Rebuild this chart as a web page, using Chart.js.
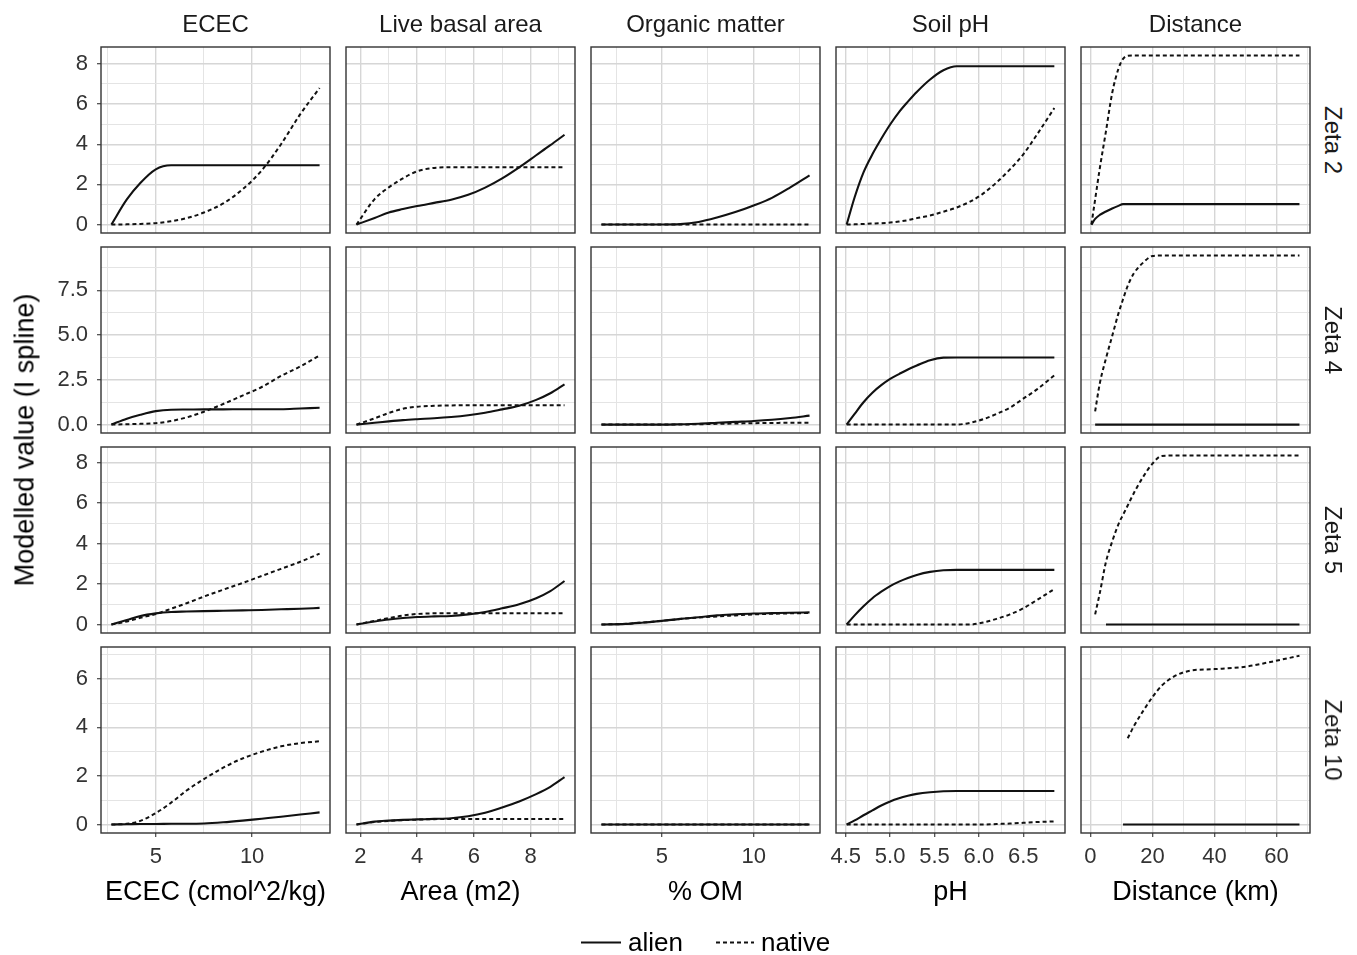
<!DOCTYPE html>
<html>
<head>
<meta charset="utf-8">
<script src="https://cdn.jsdelivr.net/npm/chart.js@4.4.1/dist/chart.umd.min.js"></script>
<style>
  body { margin: 0; background: #fff; font-family: 'Liberation Sans', Arial, sans-serif; }
  #wrap { position: relative; width: 1357px; height: 955px; overflow: hidden; }
  canvas { position: absolute; }
  .strip { position: absolute; font-size: 24px; color: #1a1a1a; white-space: nowrap; transform: translate(-50%, -50%); }
  .rstrip { transform: translate(-50%, -50%) rotate(90deg); }
  .ytitle { position: absolute; left: 25px; top: 440px; font-size: 27px; color: #000; white-space: nowrap;
            transform: translate(-50%, -50%) rotate(-90deg); }
  .legend { position: absolute; left: 581px; top: 942px; transform: translateY(-50%); display: flex; align-items: center;
            font-size: 26px; color: #000; white-space: nowrap; }
  .sw { display: inline-block; width: 40px; height: 2px; margin-right: 7px; }
  .sw.solid { background: #111; }
  .sw.dash { width: 38px; background: repeating-linear-gradient(to right, #111 0 4px, transparent 4px 7px); }
</style>
</head>
<body>
<div id="wrap"></div>
<script>
// facets
const predictors = ['ECEC', 'Live basal area', 'Organic matter', 'Soil pH', 'Distance'];
const zetas = ['Zeta 2', 'Zeta 4', 'Zeta 5', 'Zeta 10'];
const xTitles = ['ECEC (cmol^2/kg)', 'Area (m2)', '% OM', 'pH', 'Distance (km)'];
const yTitle = 'Modelled value (I spline)';
const seriesNames = ['alien', 'native'];

// x grids, one per predictor
const ececX = [2.7, 3.5, 4.2, 5, 5.8, 6.6, 7.5, 8.5, 9.5, 10.5, 11.5, 12.5, 13.5];
const areaX = [1.86, 2.5, 3, 3.5, 4, 4.6, 5.2, 5.8, 6.4, 7, 7.6, 8.2, 8.7, 9.2];
const omX = [1.7, 3, 4, 5, 6, 7, 8, 9, 10, 11, 12, 13.05];
const phX = [4.51, 4.6, 4.7, 4.8, 4.9, 5.0, 5.1, 5.2, 5.3, 5.45, 5.6, 5.75, 5.9, 6.05, 6.2, 6.35, 6.5, 6.65, 6.85];
const distX = [0.3, 1.5, 3, 5, 7, 9, 10.5, 12, 14, 17, 20, 23, 27, 32, 40, 50, 59, 67.4];

// values: one row per zeta (2, 4, 5, 10)
const ececAlien = [
  [0, 1.25, 2.07, 2.75, 2.95, 2.95, 2.95, 2.95, 2.95, 2.95, 2.95, 2.95, 2.95],
  [0, 0.33, 0.55, 0.75, 0.83, 0.84, 0.85, 0.85, 0.86, 0.86, 0.86, 0.9, 0.94],
  [0, 0.22, 0.42, 0.55, 0.62, 0.64, 0.66, 0.68, 0.7, 0.72, 0.75, 0.78, 0.82],
  [0, 0.01, 0.02, 0.02, 0.03, 0.03, 0.04, 0.09, 0.16, 0.24, 0.32, 0.41, 0.5]
];
const ececNative = [
  [0, 0.01, 0.03, 0.07, 0.17, 0.32, 0.6, 1.05, 1.75, 2.7, 4.0, 5.5, 6.8],
  [0, 0.02, 0.04, 0.08, 0.2, 0.4, 0.72, 1.15, 1.62, 2.1, 2.72, 3.25, 3.86],
  [0, 0.15, 0.33, 0.52, 0.78, 1.05, 1.38, 1.72, 2.05, 2.4, 2.75, 3.1, 3.5],
  [0, 0.03, 0.15, 0.47, 0.9, 1.4, 1.87, 2.34, 2.72, 3.0, 3.22, 3.35, 3.43]
];
const areaAlien = [
  [0, 0.33, 0.6, 0.77, 0.92, 1.08, 1.24, 1.48, 1.84, 2.3, 2.85, 3.45, 3.95, 4.47],
  [0, 0.1, 0.18, 0.25, 0.3, 0.35, 0.42, 0.52, 0.66, 0.85, 1.05, 1.38, 1.75, 2.25],
  [0, 0.15, 0.25, 0.32, 0.37, 0.4, 0.42, 0.5, 0.62, 0.8, 1.0, 1.3, 1.65, 2.15],
  [0, 0.12, 0.16, 0.19, 0.21, 0.23, 0.26, 0.34, 0.48, 0.7, 0.95, 1.25, 1.55, 1.95]
];
const areaNative = [
  [0, 1.27, 1.85, 2.3, 2.65, 2.82, 2.85, 2.85, 2.85, 2.85, 2.85, 2.85, 2.85, 2.85],
  [0, 0.35, 0.65, 0.88, 1.0, 1.05, 1.07, 1.08, 1.08, 1.08, 1.08, 1.08, 1.08, 1.08],
  [0, 0.18, 0.32, 0.44, 0.52, 0.55, 0.55, 0.55, 0.55, 0.55, 0.55, 0.55, 0.55, 0.55],
  [0, 0.1, 0.15, 0.18, 0.2, 0.22, 0.23, 0.23, 0.23, 0.23, 0.23, 0.23, 0.23, 0.23]
];
const omAlien = [
  [0, 0, 0, 0, 0.02, 0.13, 0.35, 0.62, 0.95, 1.33, 1.85, 2.45],
  [0, 0, 0, 0, 0.02, 0.05, 0.1, 0.15, 0.2, 0.27, 0.37, 0.5],
  [0, 0.03, 0.1, 0.18, 0.28, 0.36, 0.45, 0.5, 0.54, 0.56, 0.58, 0.6],
  [0, 0, 0, 0, 0, 0, 0, 0, 0, 0, 0, 0]
];
const omNative = [
  [0, 0, 0, 0, 0, 0, 0, 0, 0, 0, 0, 0],
  [0, 0, 0, 0, 0, 0.02, 0.04, 0.06, 0.08, 0.09, 0.1, 0.1],
  [0, 0.03, 0.1, 0.18, 0.27, 0.34, 0.4, 0.45, 0.5, 0.53, 0.55, 0.57],
  [0, 0, 0, 0, 0, 0, 0, 0, 0, 0, 0, 0]
];
const phAlien = [
  [0, 1.36, 2.6, 3.5, 4.27, 4.98, 5.6, 6.12, 6.6, 7.22, 7.68, 7.88, 7.88, 7.88, 7.88, 7.88, 7.88, 7.88, 7.88],
  [0, 0.6, 1.25, 1.78, 2.2, 2.55, 2.82, 3.08, 3.3, 3.6, 3.74, 3.75, 3.75, 3.75, 3.75, 3.75, 3.75, 3.75, 3.75],
  [0, 0.45, 0.9, 1.3, 1.62, 1.9, 2.12, 2.3, 2.45, 2.6, 2.68, 2.7, 2.7, 2.7, 2.7, 2.7, 2.7, 2.7, 2.7],
  [0, 0.17, 0.38, 0.58, 0.78, 0.95, 1.08, 1.18, 1.26, 1.33, 1.37, 1.38, 1.38, 1.38, 1.38, 1.38, 1.38, 1.38, 1.38]
];
const phNative = [
  [0, 0.01, 0.03, 0.05, 0.07, 0.1, 0.15, 0.22, 0.32, 0.45, 0.64, 0.85, 1.14, 1.55, 2.1, 2.75, 3.5, 4.45, 5.8],
  [0, 0, 0, 0, 0, 0, 0, 0, 0, 0, 0, 0, 0.1, 0.3, 0.6, 0.95, 1.45, 1.95, 2.75],
  [0, 0, 0, 0, 0, 0, 0, 0, 0, 0, 0, 0, 0, 0.1, 0.28, 0.5, 0.8, 1.2, 1.75],
  [0, 0, 0, 0, 0, 0, 0, 0, 0, 0, 0, 0, 0, 0, 0.02, 0.04, 0.07, 0.1, 0.13]
];
const distAlien = [
  [0, 0.28, 0.48, 0.65, 0.8, 0.93, 1.02, 1.02, 1.02, 1.02, 1.02, 1.02, 1.02, 1.02, 1.02, 1.02, 1.02, 1.02],
  [null, 0, 0, 0, 0, 0, 0, 0, 0, 0, 0, 0, 0, 0, 0, 0, 0, 0],
  [null, null, null, 0, 0, 0, 0, 0, 0, 0, 0, 0, 0, 0, 0, 0, 0, 0],
  [null, null, null, null, null, null, 0, 0, 0, 0, 0, 0, 0, 0, 0, 0, 0, 0]
];
const distNative = [
  [0, 1.25, 2.8, 4.65, 6.55, 7.75, 8.25, 8.4, 8.42, 8.42, 8.42, 8.42, 8.42, 8.42, 8.42, 8.42, 8.42, 8.42],
  [null, 0.74, 2.3, 3.7, 4.95, 6.2, 7.0, 7.75, 8.45, 9.05, 9.42, 9.45, 9.45, 9.45, 9.45, 9.45, 9.45, 9.45],
  [null, 0.5, 1.55, 3.1, 4.1, 4.95, 5.42, 5.88, 6.5, 7.3, 7.95, 8.33, 8.35, 8.35, 8.35, 8.35, 8.35, 8.35],
  [null, null, null, null, null, null, null, 3.55, 4.05, 4.68, 5.25, 5.72, 6.1, 6.33, 6.4, 6.5, 6.72, 6.95]
];

// axis ranges and ticks
const xMin = [2.16, 1.49, 1.13, 4.39, -3.06];
const xMax = [14.04, 9.57, 13.62, 6.97, 70.8];
const xMajors = [[5, 10], [2, 4, 6, 8], [5, 10], [4.5, 5.0, 5.5, 6.0, 6.5], [0, 20, 40, 60]];
const xMinors = [[2.5, 7.5, 12.5], [3, 5, 7, 9], [2.5, 7.5, 12.5], [4.75, 5.25, 5.75, 6.25, 6.75], [10, 30, 50, 70]];
const xTickLabels = [['5', '10'], ['2', '4', '6', '8'], ['5', '10'], ['4.5', '5.0', '5.5', '6.0', '6.5'], ['0', '20', '40', '60']];
const yMin = [-0.42, -0.47, -0.42, -0.35];
const yMax = [8.84, 9.92, 8.77, 7.31];
const yMajors = [[0, 2, 4, 6, 8], [0, 2.5, 5, 7.5], [0, 2, 4, 6, 8], [0, 2, 4, 6]];
const yMinors = [[1, 3, 5, 7], [1.25, 3.75, 6.25, 8.75], [1, 3, 5, 7], [1, 3, 5, 7]];
const yTickLabels = [['0', '2', '4', '6', '8'], ['0.0', '2.5', '5.0', '7.5'], ['0', '2', '4', '6', '8'], ['0', '2', '4', '6']];

const xGrids = [ececX, areaX, omX, phX, distX];
const alienVals = [ececAlien, areaAlien, omAlien, phAlien, distAlien];
const nativeVals = [ececNative, areaNative, omNative, phNative, distNative];

Chart.defaults.font.family = "'Liberation Sans', Arial, sans-serif";
Chart.defaults.color = '#333';

const wrap = document.getElementById('wrap');
const PW = 229, PH = 186, M = 3, YW = 60, XH = 80;
const panelLeft = c => 101 + c * 245;
const panelTop = r => 47 + r * 200;

const near = (list, v) => list.findIndex(m => Math.abs(m - v) < 1e-6);
const toXY = (xs, ys) => xs.map((x, i) => ({ x: x, y: ys[i] }));
const noPad = s => { s.paddingLeft = 0; s.paddingRight = 0; s.paddingTop = 0; s.paddingBottom = 0; };

const panelBorder = {
  id: 'panelBorder',
  afterDraw(chart) {
    const a = chart.chartArea, ctx = chart.ctx;
    ctx.save();
    ctx.strokeStyle = '#333';
    ctx.lineWidth = 1.4;
    ctx.strokeRect(a.left, a.top, a.right - a.left, a.bottom - a.top);
    ctx.restore();
  }
};

function gridOpts(majors, showTicks) {
  return {
    color: ctx => near(majors, ctx.tick.value) >= 0 ? '#d6d6d6' : '#e4e4e4',
    lineWidth: ctx => near(majors, ctx.tick.value) >= 0 ? 1.4 : 1,
    drawTicks: showTicks,
    tickLength: 4,
    tickWidth: 1.2,
    tickColor: ctx => near(majors, ctx.tick.value) >= 0 ? '#444' : 'rgba(0,0,0,0)'
  };
}

for (let r = 0; r < zetas.length; r++) {
  for (let c = 0; c < predictors.length; c++) {
    const leftAxis = c === 0, bottomAxis = r === zetas.length - 1;
    // extra margin so edge tick labels are not clipped
    const mLR = bottomAxis ? 24 : M;
    const mTB = leftAxis ? 14 : M;
    const cv = document.createElement('canvas');
    const w = PW + 2 * mLR + (leftAxis ? YW : 0);
    const h = PH + 2 * mTB + (bottomAxis ? XH : 0);
    cv.width = w; cv.height = h;
    cv.style.left = (panelLeft(c) - mLR - (leftAxis ? YW : 0)) + 'px';
    cv.style.top = (panelTop(r) - mTB) + 'px';
    cv.style.width = w + 'px'; cv.style.height = h + 'px';
    wrap.appendChild(cv);

    const xs = xGrids[c];
    new Chart(cv.getContext('2d'), {
      type: 'line',
      data: {
        datasets: [
          { label: seriesNames[1], data: toXY(xs, nativeVals[c][r]), borderColor: '#111', borderWidth: 2,
            borderDash: [4, 3], pointRadius: 0, cubicInterpolationMode: 'monotone', spanGaps: false },
          { label: seriesNames[0], data: toXY(xs, alienVals[c][r]), borderColor: '#111', borderWidth: 2.1,
            pointRadius: 0, cubicInterpolationMode: 'monotone', spanGaps: false }
        ]
      },
      options: {
        responsive: false,
        animation: false,
        events: [],
        layout: { padding: { left: mLR, right: mLR, top: mTB, bottom: mTB } },
        plugins: { legend: { display: false }, tooltip: { enabled: false } },
        scales: {
          x: {
            type: 'linear', min: xMin[c], max: xMax[c],
            afterBuildTicks: s => { s.ticks = xMajors[c].concat(xMinors[c]).sort((a, b) => a - b).map(v => ({ value: v })); },
            afterFit: s => { s.height = bottomAxis ? XH : 0; noPad(s); },
            border: { display: false },
            grid: gridOpts(xMajors[c], bottomAxis),
            ticks: {
              display: bottomAxis, autoSkip: false, maxRotation: 0, padding: 7,
              font: { size: 22 }, color: '#333',
              callback: v => { const i = near(xMajors[c], v); return i >= 0 ? xTickLabels[c][i] : ''; }
            },
            title: { display: bottomAxis, text: xTitles[c], font: { size: 27 }, color: '#000', padding: { top: 0, bottom: 4 } }
          },
          y: {
            type: 'linear', min: yMin[r], max: yMax[r],
            afterBuildTicks: s => { s.ticks = yMajors[r].concat(yMinors[r]).sort((a, b) => a - b).map(v => ({ value: v })); },
            afterFit: s => { s.width = leftAxis ? YW : 0; noPad(s); },
            border: { display: false },
            grid: gridOpts(yMajors[r], leftAxis),
            ticks: {
              display: leftAxis, autoSkip: false, padding: 9,
              font: { size: 22 }, color: '#333',
              callback: v => { const i = near(yMajors[r], v); return i >= 0 ? yTickLabels[r][i] : ''; }
            }
          }
        }
      },
      plugins: [panelBorder]
    });
  }
}

// facet strips and shared titles
predictors.forEach((p, c) => {
  const d = document.createElement('div');
  d.className = 'strip';
  d.textContent = p;
  d.style.left = (panelLeft(c) + PW / 2) + 'px';
  d.style.top = '24px';
  wrap.appendChild(d);
});
zetas.forEach((z, r) => {
  const d = document.createElement('div');
  d.className = 'strip rstrip';
  d.textContent = z;
  d.style.left = '1333px';
  d.style.top = (panelTop(r) + PH / 2) + 'px';
  wrap.appendChild(d);
});
const yt = document.createElement('div');
yt.className = 'ytitle';
yt.textContent = yTitle;
wrap.appendChild(yt);

const lg = document.createElement('div');
lg.className = 'legend';
lg.innerHTML = '<span class="sw solid"></span><span style="margin-right:33px">' + seriesNames[0] +
  '</span><span class="sw dash"></span><span>' + seriesNames[1] + '</span>';
wrap.appendChild(lg);
</script>
</body>
</html>
